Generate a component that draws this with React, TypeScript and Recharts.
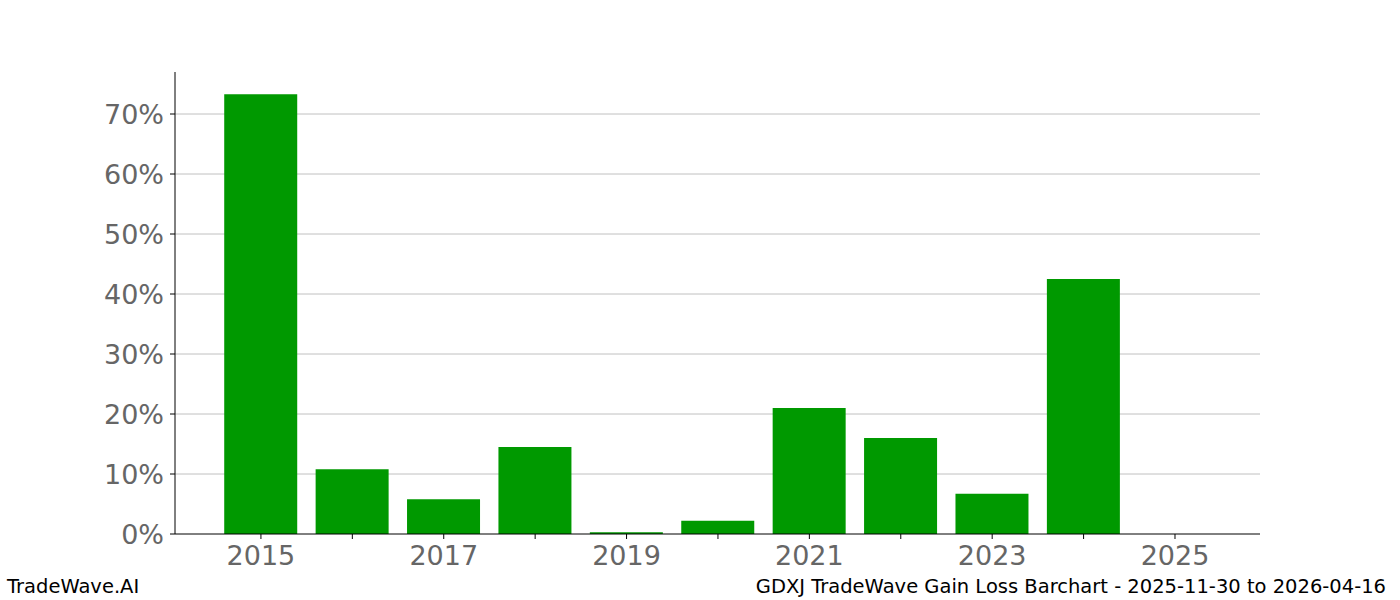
import React from 'react';
import { BarChart, Bar, XAxis, YAxis, CartesianGrid } from 'recharts';

const years = [2015, 2016, 2017, 2018, 2019, 2020, 2021, 2022, 2023, 2024, 2025];
const gains = [73.3, 10.8, 5.8, 14.5, 0.3, 2.2, 21.0, 16.0, 6.7, 42.5, 0];
const yTicks = [0, 10, 20, 30, 40, 50, 60, 70];
const xTicks = years;

const data = years.map((year, i) => ({ year, gain: gains[i] }));

const tickStyle = { fill: '#666666', fontSize: 27, fontFamily: 'DejaVu Sans' };

export default function App() {
  return (
    <div style={{ position: 'absolute', left: 0, top: 0, width: 1400, height: 600, background: '#fff', fontFamily: 'DejaVu Sans' }}>
      <BarChart
        width={1400}
        height={600}
        data={data}
        margin={{ top: 72, right: 140, bottom: 26, left: 75 }}
      >
        <CartesianGrid vertical={false} horizontalValues={yTicks.slice(1)} stroke="#c0c0c0" strokeWidth={1} />
        <XAxis
          dataKey="year"
          type="number"
          domain={[2014.06, 2025.93]}
          allowDataOverflow
          ticks={xTicks}
          tickFormatter={(v) => (v % 2 === 1 ? String(v) : '')}
          tick={tickStyle}
          tickSize={5}
          tickMargin={7}
          tickLine={{ stroke: '#000' }}
          axisLine={{ stroke: '#000' }}
          height={40}
          interval={0}
        />
        <YAxis
          domain={[0, 77]}
          ticks={yTicks}
          allowDataOverflow
          tickFormatter={(v) => `${v}%`}
          tick={tickStyle}
          tickSize={5}
          tickMargin={6}
          tickLine={{ stroke: '#000' }}
          axisLine={{ stroke: '#000' }}
          width={100}
          interval={0}
        />
        <Bar dataKey="gain" fill="#009900" barSize={73} isAnimationActive={false} />
      </BarChart>
      <div style={{ position: 'absolute', left: 7, top: 575, fontSize: 19.5, color: '#000' }}>TradeWave.AI</div>
      <div style={{ position: 'absolute', right: 14, top: 575, fontSize: 19.5, color: '#000' }}>
        GDXJ TradeWave Gain Loss Barchart - 2025-11-30 to 2026-04-16
      </div>
    </div>
  );
}
